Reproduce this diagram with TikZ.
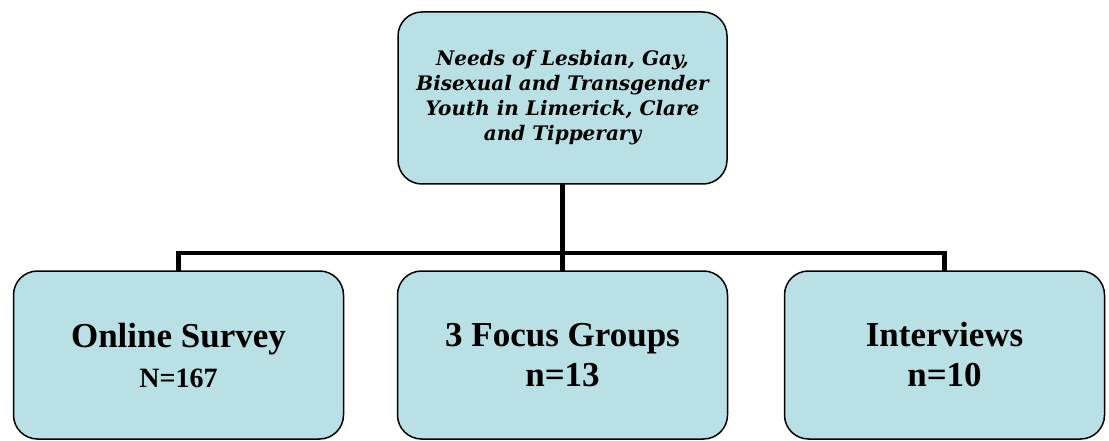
\documentclass[tikz,border=0pt]{standalone}
\usepackage{fontspec}
\setmainfont{Liberation Serif}
\newfontfamily\titlefont{DejaVu Serif}
\usepackage{tikz}
\usetikzlibrary{positioning}

\definecolor{boxblue}{RGB}{185,224,228}

\tikzset{
  panel/.style={draw=black, line width=1.5pt, fill=boxblue, rounded corners=24pt,
    inner sep=0pt, outer sep=0pt, align=center},
  leaf/.style={panel, minimum width=330pt, minimum height=168pt,
    font=\fontsize{35}{40}\selectfont\bfseries},
  link/.style={line width=4.5pt}
}

\begin{document}
\begin{tikzpicture}
        \useasboundingbox (0,0) rectangle (1109pt,-441pt);
        \node[panel, minimum width=329pt, minimum height=172pt,
              font=\titlefont\fontsize{20}{25}\selectfont\bfseries\itshape]
              (needs) at (562.5pt,-98pt)
              {Needs of Lesbian, Gay,\\Bisexual and Transgender\\Youth in Limerick, Clare\\and Tipperary};
        \node[leaf] (groups) [below = 87pt of needs] {3 Focus Groups\\n=13};
        \node[leaf] (survey) [left = 54pt of groups]
              {Online Survey\\{\fontsize{28}{30}\selectfont N=167}};
        \node[leaf, minimum width=320pt] (interviews) [right = 57pt of groups] {Interviews\\n=10};
        \coordinate (bus) at (0,-253pt);
        \draw[link] (needs.south) -- (groups.north);
        \draw[link] (survey.north) |- (bus -| groups.north) -| (interviews.north);
    \end{tikzpicture}
\end{document}
